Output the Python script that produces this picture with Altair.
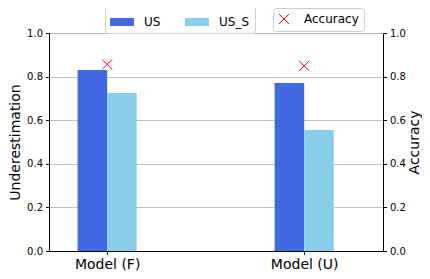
import altair as alt
import pandas as pd

categories = ["Model (F)", "Model (U)"]
us = [0.83, 0.771]
us_s = [0.725, 0.555]
accuracy = [0.856, 0.849]
series_names = ["US", "US_S"]
bar_width = 0.15

rows = []
for i, c in enumerate(categories):
    rows.append({"cat": c, "series": "US", "x": i - bar_width, "x2": i, "v": us[i]})
    rows.append({"cat": c, "series": "US_S", "x": i, "x2": i + bar_width, "v": us_s[i]})
bars_df = pd.DataFrame(rows)
acc_df = pd.DataFrame({"x": list(range(len(categories))), "acc": accuracy, "series": ["Accuracy"] * len(categories)})

label_expr = " : ".join(f"datum.value == {i} ? '{c}'" for i, c in enumerate(categories)) + " : ''"

xscale = alt.Scale(domain=[-0.295, 1.4], nice=False, zero=False)
xaxis = alt.Axis(values=list(range(len(categories))), labelExpr=label_expr, title=None, grid=False,
                 labelFontSize=14, labelColor="black", tickColor="black", tickSize=3.5,
                 domainColor="black", labelPadding=3, labelFont="DejaVu Sans")

rect_path = "M-1,-0.3333H1V0.3333H-1Z"
x_path = "M-1,-1L1,1M-1,1L1,-1"

bars = alt.Chart(bars_df).mark_rect().encode(
    x=alt.X("x:Q", scale=xscale, axis=xaxis),
    x2="x2:Q",
    y=alt.Y("v:Q", scale=alt.Scale(domain=[0, 1], nice=False),
            axis=alt.Axis(values=[0, 0.2, 0.4, 0.6, 0.8, 1.0], format=".1f", title="Underestimation",
                          titleFontSize=14, titleFontWeight="normal", titleColor="black",
                          labelFontSize=10, labelColor="black", tickColor="black", tickSize=3.5,
                          domainColor="black", grid=True, gridColor="#b0b0b0", gridWidth=0.8,
                          titlePadding=4, labelPadding=3, labelFont="DejaVu Sans", titleFont="DejaVu Sans")),
    y2=alt.datum(0),
    color=alt.Color("series:N", scale=alt.Scale(domain=series_names, range=["#4169E1", "#87CEEB"]),
                    legend=alt.Legend(title=None, orient="none", legendX=56, legendY=-28, direction="horizontal",
                                      columns=2, symbolType=rect_path, symbolSize=576, labelFontSize=12,
                                      labelFont="DejaVu Sans", labelColor="black", columnPadding=24,
                                      labelOffset=10, padding=5, fillColor="white", strokeColor="#cccccc",
                                      cornerRadius=3, symbolStrokeWidth=0, symbolOpacity=1)),
)

points = alt.Chart(acc_df).mark_point(filled=False, color="red", size=100, strokeWidth=1, opacity=1).encode(
    x=alt.X("x:Q", scale=xscale),
    y=alt.Y("acc:Q", scale=alt.Scale(domain=[0, 1], nice=False),
            axis=alt.Axis(orient="right", values=[0, 0.2, 0.4, 0.6, 0.8, 1.0], format=".1f", title="Accuracy",
                          titleFontSize=14, titleFontWeight="normal", titleColor="black", titleAngle=270,
                          titleX=31, titleY=109, titleAlign="center", titleBaseline="middle",
                          labelFontSize=10, labelColor="black", tickColor="black", tickSize=3.5,
                          domainColor="black", grid=False, labelPadding=3,
                          labelFont="DejaVu Sans", titleFont="DejaVu Sans")),
    shape=alt.Shape("series:N", scale=alt.Scale(domain=["Accuracy"], range=[x_path]),
                    legend=alt.Legend(title=None, orient="none", legendX=224, legendY=-25,
                                      symbolSize=100, symbolStrokeColor="red", symbolFillColor="transparent",
                                      symbolStrokeWidth=1, labelFontSize=12, labelFont="DejaVu Sans",
                                      labelColor="black", labelOffset=14, padding=5, fillColor="white",
                                      strokeColor="#cccccc", cornerRadius=3)),
)

chart = alt.layer(bars, points).resolve_scale(y="independent").properties(
    width=334, height=218,
    autosize=alt.AutoSizeParams(type="none"),
    padding={"left": 41, "top": 25, "right": 39, "bottom": 20},
).configure_view(stroke="black", strokeWidth=1).configure(background="white")

chart.save("out.html", embed_options={"renderer": "svg", "actions": False})
